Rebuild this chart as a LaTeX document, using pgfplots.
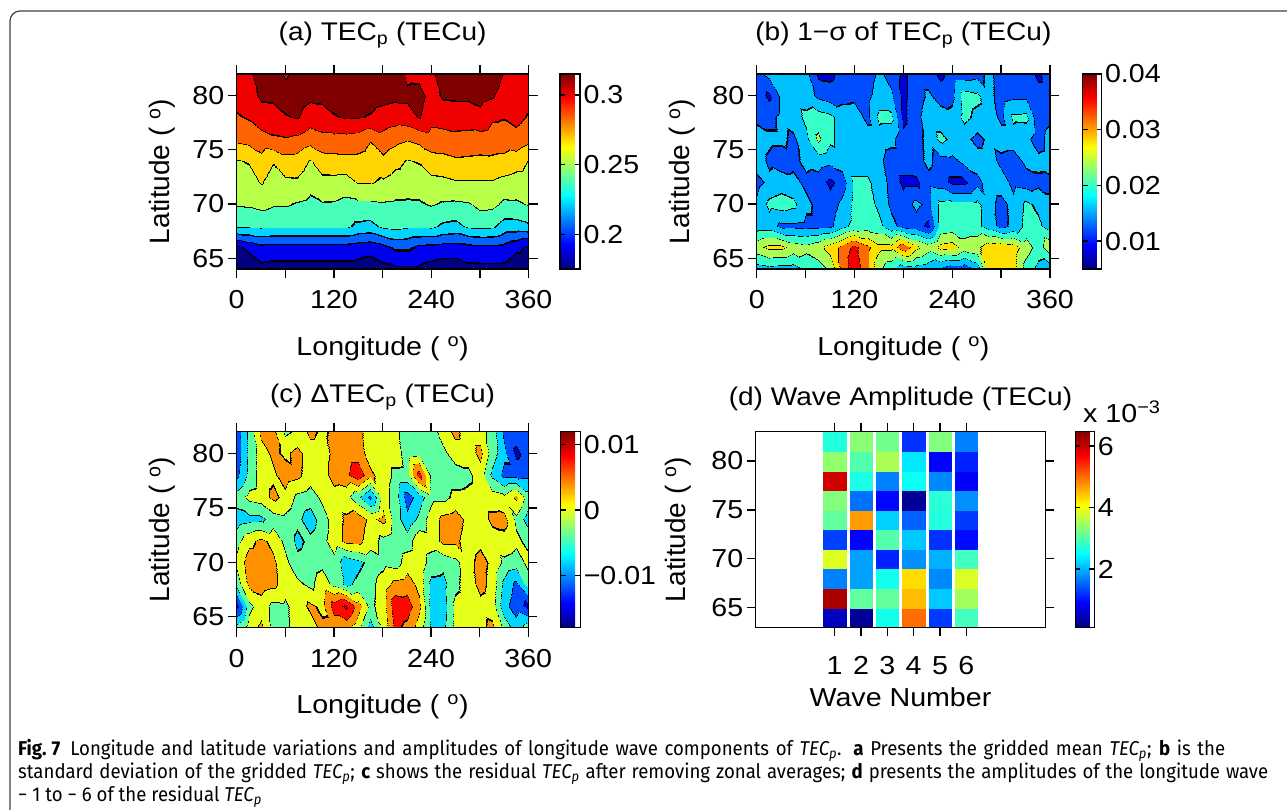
\documentclass[border=0pt]{standalone}
\usepackage{fontspec}
\setmainfont{Liberation Sans}
\newfontfamily\plotfont[FakeStretch=1.1]{Liberation Sans}
\newfontfamily\capfont[FakeStretch=0.93]{Fira Sans}
\usepackage{pgfplots}
\pgfplotsset{compat=1.18}
\newcommand\cbdash[1]{%
  \draw[black, line width=1.3pt] ({rel axis cs:0,0}|-{axis cs:0,#1}) -- ++(5pt,0);
  \draw[black, line width=1.3pt] ({rel axis cs:1,0}|-{axis cs:0,#1}) -- ++(-5pt,0);}
\pgfplotsset{
  colormap={bandsA}{rgb(0pt)=(0,0,0.5) rgb(0.96pt)=(0,0,0) rgb(1.04pt)=(0,0,0.944) rgb(1.92pt)=(0,0,0) rgb(2.08pt)=(0,0.389,1) rgb(2.92pt)=(0,0,0) rgb(3.08pt)=(0,0.833,1) rgb(3.96pt)=(0,0,0) rgb(4.04pt)=(0.278,1,0.722) rgb(4.975pt)=(0,0,0) rgb(5.025pt)=(0.722,1,0.278) rgb(5.975pt)=(0,0,0) rgb(6.025pt)=(1,0.833,0) rgb(6.975pt)=(0,0,0) rgb(7.025pt)=(1,0.389,0) rgb(7.975pt)=(0,0,0) rgb(8.025pt)=(0.944,0,0) rgb(8.975pt)=(0,0,0) rgb(9.025pt)=(0.5,0,0) rgb(10pt)=(0.5,0,0)},
  colormap={bandsB}{rgb(0pt)=(0,0,0.557) rgb(0.87pt)=(0,0,0) rgb(1.13pt)=(0,0,0.844) rgb(4.87pt)=(0,0,0) rgb(5.13pt)=(0,0.3,1) rgb(8.87pt)=(0,0,0) rgb(9.13pt)=(0,0.757,1) rgb(12.87pt)=(0,0,0) rgb(13.13pt)=(0.214,1,0.786) rgb(16.87pt)=(0,0,0) rgb(17.13pt)=(0.671,1,0.329) rgb(20.87pt)=(0,0,0) rgb(21.13pt)=(1,0.871,0) rgb(24.87pt)=(0,0,0) rgb(25.13pt)=(1,0.414,0) rgb(28.87pt)=(0,0,0) rgb(29.13pt)=(0.957,0,0) rgb(32.87pt)=(0,0,0) rgb(33.13pt)=(0.614,0,0) rgb(35pt)=(0.614,0,0)},
  colormap={bandsC}{rgb(0pt)=(0,0,0.767) rgb(3.87pt)=(0,0,0) rgb(4.13pt)=(0,0.3,1) rgb(7.87pt)=(0,0,0) rgb(8.13pt)=(0,0.833,1) rgb(11.87pt)=(0,0,0) rgb(12.13pt)=(0.367,1,0.633) rgb(15.87pt)=(0,0,0) rgb(16.13pt)=(0.9,1,0.1) rgb(19.87pt)=(0,0,0) rgb(20.13pt)=(1,0.567,0) rgb(23.87pt)=(0,0,0) rgb(24.13pt)=(1,0.033,0) rgb(27.87pt)=(0,0,0) rgb(28.13pt)=(0.633,0,0) rgb(30pt)=(0.633,0,0)},
  panel/.style={
    scale only axis, axis on top, enlargelimits=false,
    tick align=outside, major tick length=9pt,
    xtick pos=both, ytick pos=both,
    tick style={black, line width=1.3pt},
    axis line style={black, line width=1.1pt},
    ticklabel style={font=\plotfont\fontsize{26}{26}\selectfont},
    xticklabel style={yshift=-9pt},
    ytick={65,70,75,80}, yticklabels={65,70,75,80},
    title style={font=\plotfont\fontsize{25.5}{25.5}\selectfont, anchor=base},
    xlabel style={font=\plotfont\fontsize{26}{26}\selectfont, anchor=base},
    ylabel style={font=\fontsize{28}{28}\selectfont, anchor=base},
    ylabel={Latitude ( \textsuperscript{o})},
    colormap/jet, colorbar,
    colorbar style={
      at={(parent axis.north east)}, anchor=north west,
      colormap access=map, scaled y ticks=false,
      ytick style={draw=none},
      yticklabel style={font=\plotfont\fontsize{26}{26}\selectfont},
      axis line style={black, line width=1.1pt},
    },
  },
  lonpanel/.style={panel, xmin=0, xmax=360, ymin=64, ymax=82,
    xtick={0,60,...,360}, xticklabels={0,,120,,240,,360},
    xlabel={Longitude ( \textsuperscript{o})}},
  bandplot/.style={surf, shader=interp, mesh/rows=10, mesh/cols=25, point meta=explicit, colormap access=piecewise constant},
}
\begin{document}
\begin{tikzpicture}
\useasboundingbox (0,0) rectangle (1287pt,809pt);
\draw[black!75, line width=1.2pt] (10pt,-5pt) -- (10pt,788pt) arc[start angle=180, end angle=90, radius=10pt] -- (1295pt,798pt);

% (a)
\begin{axis}[lonpanel, at={(236.7pt,540pt)}, anchor=south west, width=291.8pt, height=195pt,
  point meta min=0.175, point meta max=0.315,
  title={(a) TEC\textsubscript{p} (TECu)}, title style={at={(axis description cs:0.5,1.14)}},
  xlabel style={at={(axis description cs:0.5,-0.446)}},
  ylabel style={at={(axis description cs:-0.231,0.5)}},
  colorbar style={xshift=23pt, width=20pt, ytick={0.2,0.25,0.3}, yticklabels={0.2,0.25,0.3},
    after end axis/.code={\cbdash{0.2}\cbdash{0.25}\cbdash{0.3}}}]
\addplot[bandplot, colormap name=bandsA] coordinates {
(0,64)[0.1792] (15,64)[0.1792] (30,64)[0.1848] (45,64)[0.1834] (60,64)[0.1834] (75,64)[0.1834] (90,64)[0.1834] (105,64)[0.1834] (120,64)[0.1834] (135,64)[0.1834] (150,64)[0.1834] (165,64)[0.1806] (180,64)[0.1848] (195,64)[0.1862] (210,64)[0.1862] (225,64)[0.1862] (240,64)[0.1834] (255,64)[0.1806] (270,64)[0.1806] (285,64)[0.1848] (300,64)[0.1848] (315,64)[0.1848] (330,64)[0.1848] (345,64)[0.1792] (360,64)[0.1792]
(0,66)[0.1862] (15,66)[0.1925] (30,66)[0.1988] (45,66)[0.1974] (60,66)[0.1974] (75,66)[0.1974] (90,66)[0.1974] (105,66)[0.1974] (120,66)[0.1974] (135,66)[0.1974] (150,66)[0.1960] (165,66)[0.1946] (180,66)[0.1988] (195,66)[0.2058] (210,66)[0.2058] (225,66)[0.2002] (240,66)[0.1988] (255,66)[0.1974] (270,66)[0.1974] (285,66)[0.1988] (300,66)[0.2002] (315,66)[0.2002] (330,66)[0.1988] (345,66)[0.1925] (360,66)[0.1862]
(0,68)[0.2335] (15,68)[0.2335] (30,68)[0.2338] (45,68)[0.2335] (60,68)[0.2335] (75,68)[0.2335] (90,68)[0.2335] (105,68)[0.2335] (120,68)[0.2335] (135,68)[0.2335] (150,68)[0.2282] (165,68)[0.2268] (180,68)[0.2338] (195,68)[0.2352] (210,68)[0.2335] (225,68)[0.2335] (240,68)[0.2338] (255,68)[0.2285] (270,68)[0.2268] (285,68)[0.2335] (300,68)[0.2345] (315,68)[0.2335] (330,68)[0.2254] (345,68)[0.2254] (360,68)[0.2285]
(0,70)[0.2461] (15,70)[0.2468] (30,70)[0.2492] (45,70)[0.2464] (60,70)[0.2464] (75,70)[0.2439] (90,70)[0.2415] (105,70)[0.2439] (120,70)[0.2436] (135,70)[0.2408] (150,70)[0.2422] (165,70)[0.2422] (180,70)[0.2436] (195,70)[0.2429] (210,70)[0.2429] (225,70)[0.2436] (240,70)[0.2461] (255,70)[0.2436] (270,70)[0.2429] (285,70)[0.2436] (300,70)[0.2492] (315,70)[0.2485] (330,70)[0.2422] (345,70)[0.2429] (360,70)[0.2461]
(0,72)[0.2520] (15,72)[0.2530] (30,72)[0.2601] (45,72)[0.2527] (60,72)[0.2562] (75,72)[0.2569] (90,72)[0.2499] (105,72)[0.2548] (120,72)[0.2548] (135,72)[0.2534] (150,72)[0.2601] (165,72)[0.2601] (180,72)[0.2569] (195,72)[0.2527] (210,72)[0.2513] (225,72)[0.2513] (240,72)[0.2548] (255,72)[0.2555] (270,72)[0.2579] (285,72)[0.2579] (300,72)[0.2579] (315,72)[0.2579] (330,72)[0.2548] (345,72)[0.2527] (360,72)[0.2520]
(0,74)[0.2579] (15,74)[0.2601] (30,74)[0.2678] (45,74)[0.2601] (60,74)[0.2674] (75,74)[0.2667] (90,74)[0.2579] (105,74)[0.2667] (120,74)[0.2674] (135,74)[0.2688] (150,74)[0.2688] (165,74)[0.2660] (180,74)[0.2695] (195,74)[0.2632] (210,74)[0.2579] (225,74)[0.2601] (240,74)[0.2674] (255,74)[0.2688] (270,74)[0.2709] (285,74)[0.2702] (300,74)[0.2695] (315,74)[0.2702] (330,74)[0.2688] (345,74)[0.2653] (360,74)[0.2579]
(0,76)[0.2758] (15,76)[0.2778] (30,76)[0.2814] (45,76)[0.2849] (60,76)[0.2859] (75,76)[0.2842] (90,76)[0.2786] (105,76)[0.2828] (120,76)[0.2828] (135,76)[0.2821] (150,76)[0.2807] (165,76)[0.2741] (180,76)[0.2814] (195,76)[0.2772] (210,76)[0.2741] (225,76)[0.2772] (240,76)[0.2807] (255,76)[0.2807] (270,76)[0.2828] (285,76)[0.2821] (300,76)[0.2814] (315,76)[0.2800] (330,76)[0.2800] (345,76)[0.2821] (360,76)[0.2765]
(0,78)[0.2856] (15,78)[0.2884] (30,78)[0.2947] (45,78)[0.2954] (60,78)[0.2999] (75,78)[0.3021] (90,78)[0.2940] (105,78)[0.2954] (120,78)[0.2999] (135,78)[0.3024] (150,78)[0.3021] (165,78)[0.2999] (180,78)[0.2954] (195,78)[0.2933] (210,78)[0.2954] (225,78)[0.3021] (240,78)[0.2926] (255,78)[0.2940] (270,78)[0.2940] (285,78)[0.2940] (300,78)[0.2968] (315,78)[0.2891] (330,78)[0.2877] (345,78)[0.2912] (360,78)[0.2856]
(0,80)[0.2926] (15,80)[0.2954] (30,80)[0.3031] (45,80)[0.3038] (60,80)[0.3066] (75,80)[0.3080] (90,80)[0.3038] (105,80)[0.3045] (120,80)[0.3066] (135,80)[0.3080] (150,80)[0.3073] (165,80)[0.3066] (180,80)[0.3052] (195,80)[0.3038] (210,80)[0.3038] (225,80)[0.3052] (240,80)[0.2968] (255,80)[0.3024] (270,80)[0.3031] (285,80)[0.3031] (300,80)[0.3052] (315,80)[0.3024] (330,80)[0.2940] (345,80)[0.2940] (360,80)[0.2926]
(0,82)[0.2982] (15,82)[0.2982] (30,82)[0.3080] (45,82)[0.3080] (60,82)[0.2996] (75,82)[0.3066] (90,82)[0.3094] (105,82)[0.3094] (120,82)[0.3094] (135,82)[0.3094] (150,82)[0.3094] (165,82)[0.3094] (180,82)[0.3094] (195,82)[0.3094] (210,82)[0.2982] (225,82)[0.2975] (240,82)[0.2982] (255,82)[0.3080] (270,82)[0.3094] (285,82)[0.3094] (300,82)[0.3094] (315,82)[0.3094] (330,82)[0.2996] (345,82)[0.2982] (360,82)[0.2982]
};
\end{axis}

% (b)
\begin{axis}[lonpanel, at={(756.7pt,540pt)}, anchor=south west, width=293.3pt, height=195pt,
  point meta min=0.005, point meta max=0.040,
  title={(b) 1−σ of TEC\textsubscript{p} (TECu)}, title style={at={(axis description cs:0.5,1.14)}},
  xlabel style={at={(axis description cs:0.5,-0.446)}},
  ylabel style={at={(axis description cs:-0.23,0.5)}},
  colorbar style={xshift=24pt, width=19pt, ytick={0.01,0.02,0.03,0.04}, yticklabels={0.01,0.02,0.03,0.04},
    after end axis/.code={\cbdash{0.01}\cbdash{0.02}\cbdash{0.03}}}]
\addplot[bandplot, colormap name=bandsB] coordinates {
(0,64)[0.0160] (15,64)[0.0168] (30,64)[0.0160] (45,64)[0.0160] (60,64)[0.0190] (75,64)[0.0200] (90,64)[0.0228] (105,64)[0.0310] (120,64)[0.0372] (135,64)[0.0310] (150,64)[0.0228] (165,64)[0.0190] (180,64)[0.0152] (195,64)[0.0160] (210,64)[0.0152] (225,64)[0.0132] (240,64)[0.0112] (255,64)[0.0112] (270,64)[0.0150] (285,64)[0.0280] (300,64)[0.0292] (315,64)[0.0280] (330,64)[0.0200] (345,64)[0.0168] (360,64)[0.0160]
(0,66)[0.0248] (15,66)[0.0270] (30,66)[0.0270] (45,66)[0.0244] (60,66)[0.0232] (75,66)[0.0248] (90,66)[0.0280] (105,66)[0.0312] (120,66)[0.0352] (135,66)[0.0310] (150,66)[0.0270] (165,66)[0.0272] (180,66)[0.0330] (195,66)[0.0272] (210,66)[0.0240] (225,66)[0.0272] (240,66)[0.0280] (255,66)[0.0240] (270,66)[0.0252] (285,66)[0.0280] (300,66)[0.0288] (315,66)[0.0280] (330,66)[0.0240] (345,66)[0.0200] (360,66)[0.0248]
(0,68)[0.0160] (15,68)[0.0160] (30,68)[0.0130] (45,68)[0.0132] (60,68)[0.0128] (75,68)[0.0128] (90,68)[0.0132] (105,68)[0.0168] (120,68)[0.0192] (135,68)[0.0200] (150,68)[0.0192] (165,68)[0.0152] (180,68)[0.0128] (195,68)[0.0120] (210,68)[0.0090] (225,68)[0.0190] (240,68)[0.0196] (255,68)[0.0192] (270,68)[0.0190] (285,68)[0.0160] (300,68)[0.0128] (315,68)[0.0150] (330,68)[0.0192] (345,68)[0.0190] (360,68)[0.0160]
(0,70)[0.0150] (15,70)[0.0190] (30,70)[0.0200] (45,70)[0.0190] (60,70)[0.0150] (75,70)[0.0128] (90,70)[0.0120] (105,70)[0.0150] (120,70)[0.0192] (135,70)[0.0200] (150,70)[0.0168] (165,70)[0.0132] (180,70)[0.0120] (195,70)[0.0150] (210,70)[0.0128] (225,70)[0.0190] (240,70)[0.0192] (255,70)[0.0192] (270,70)[0.0190] (285,70)[0.0152] (300,70)[0.0128] (315,70)[0.0152] (330,70)[0.0188] (345,70)[0.0170] (360,70)[0.0150]
(0,72)[0.0128] (15,72)[0.0150] (30,72)[0.0160] (45,72)[0.0152] (60,72)[0.0130] (75,72)[0.0120] (90,72)[0.0090] (105,72)[0.0120] (120,72)[0.0188] (135,72)[0.0188] (150,72)[0.0160] (165,72)[0.0128] (180,72)[0.0090] (195,72)[0.0090] (210,72)[0.0128] (225,72)[0.0120] (240,72)[0.0090] (255,72)[0.0090] (270,72)[0.0128] (285,72)[0.0160] (300,72)[0.0160] (315,72)[0.0128] (330,72)[0.0120] (345,72)[0.0130] (360,72)[0.0128]
(0,74)[0.0160] (15,74)[0.0132] (30,74)[0.0120] (45,74)[0.0128] (60,74)[0.0152] (75,74)[0.0160] (90,74)[0.0150] (105,74)[0.0160] (120,74)[0.0160] (135,74)[0.0160] (150,74)[0.0150] (165,74)[0.0120] (180,74)[0.0120] (195,74)[0.0128] (210,74)[0.0148] (225,74)[0.0124] (240,74)[0.0128] (255,74)[0.0150] (270,74)[0.0160] (285,74)[0.0160] (300,74)[0.0128] (315,74)[0.0120] (330,74)[0.0150] (345,74)[0.0152] (360,74)[0.0160]
(0,76)[0.0160] (15,76)[0.0148] (30,76)[0.0148] (45,76)[0.0132] (60,76)[0.0170] (75,76)[0.0228] (90,76)[0.0190] (105,76)[0.0160] (120,76)[0.0160] (135,76)[0.0160] (150,76)[0.0160] (165,76)[0.0152] (180,76)[0.0112] (195,76)[0.0128] (210,76)[0.0150] (225,76)[0.0190] (240,76)[0.0172] (255,76)[0.0152] (270,76)[0.0128] (285,76)[0.0150] (300,76)[0.0160] (315,76)[0.0160] (330,76)[0.0150] (345,76)[0.0120] (360,76)[0.0160]
(0,78)[0.0130] (15,78)[0.0128] (30,78)[0.0150] (45,78)[0.0160] (60,78)[0.0190] (75,78)[0.0200] (90,78)[0.0190] (105,78)[0.0160] (120,78)[0.0160] (135,78)[0.0130] (150,78)[0.0190] (165,78)[0.0190] (180,78)[0.0090] (195,78)[0.0128] (210,78)[0.0160] (225,78)[0.0160] (240,78)[0.0150] (255,78)[0.0192] (270,78)[0.0168] (285,78)[0.0160] (300,78)[0.0130] (315,78)[0.0188] (330,78)[0.0190] (345,78)[0.0112] (360,78)[0.0130]
(0,80)[0.0120] (15,80)[0.0092] (30,80)[0.0150] (45,80)[0.0164] (60,80)[0.0160] (75,80)[0.0132] (90,80)[0.0120] (105,80)[0.0128] (120,80)[0.0132] (135,80)[0.0128] (150,80)[0.0160] (165,80)[0.0150] (180,80)[0.0090] (195,80)[0.0120] (210,80)[0.0148] (225,80)[0.0124] (240,80)[0.0132] (255,80)[0.0200] (270,80)[0.0190] (285,80)[0.0150] (300,80)[0.0124] (315,80)[0.0132] (330,80)[0.0132] (345,80)[0.0120] (360,80)[0.0120]
(0,82)[0.0130] (15,82)[0.0152] (30,82)[0.0160] (45,82)[0.0160] (60,82)[0.0150] (75,82)[0.0092] (90,82)[0.0090] (105,82)[0.0120] (120,82)[0.0120] (135,82)[0.0120] (150,82)[0.0150] (165,82)[0.0120] (180,82)[0.0092] (195,82)[0.0120] (210,82)[0.0120] (225,82)[0.0090] (240,82)[0.0120] (255,82)[0.0120] (270,82)[0.0128] (285,82)[0.0150] (300,82)[0.0120] (315,82)[0.0120] (330,82)[0.0120] (345,82)[0.0090] (360,82)[0.0130]
};
\end{axis}

% (c)
\begin{axis}[lonpanel, at={(236.7pt,181.3pt)}, anchor=south west, width=291.6pt, height=196pt,
  point meta min=-0.018, point meta max=0.012,
  title={(c) ΔTEC\textsubscript{p} (TECu)}, title style={at={(axis description cs:0.5,1.119)}},
  xlabel style={at={(axis description cs:0.5,-0.44)}},
  ylabel style={at={(axis description cs:-0.231,0.5)}},
  colorbar style={xshift=24pt, width=19.4pt, ytick={-0.01,0,0.01}, yticklabels={−0.01,0,0.01},
    after end axis/.code={\cbdash{-0.01}\cbdash{0}\cbdash{0.01}}}]
\addplot[bandplot, colormap name=bandsC] coordinates {
(0,64)[-0.0040] (15,64)[0.0000] (30,64)[0.0030] (45,64)[-0.0030] (60,64)[-0.0032] (75,64)[0.0000] (90,64)[0.0000] (105,64)[0.0030] (120,64)[0.0032] (135,64)[0.0030] (150,64)[-0.0008] (165,64)[-0.0080] (180,64)[-0.0010] (195,64)[0.0070] (210,64)[0.0048] (225,64)[0.0000] (240,64)[-0.0070] (255,64)[-0.0070] (270,64)[-0.0010] (285,64)[0.0000] (300,64)[0.0010] (315,64)[0.0030] (330,64)[-0.0030] (345,64)[-0.0080] (360,64)[-0.0040]
(0,66)[-0.0152] (15,66)[-0.0032] (30,66)[0.0000] (45,66)[-0.0032] (60,66)[-0.0028] (75,66)[0.0000] (90,66)[0.0028] (105,66)[0.0010] (120,66)[0.0080] (135,66)[0.0110] (150,66)[0.0040] (165,66)[-0.0030] (180,66)[0.0000] (195,66)[0.0088] (210,66)[0.0080] (225,66)[0.0030] (240,66)[-0.0072] (255,66)[-0.0080] (270,66)[-0.0010] (285,66)[0.0000] (300,66)[0.0008] (315,66)[0.0000] (330,66)[-0.0088] (345,66)[-0.0120] (360,66)[-0.0152]
(0,68)[-0.0040] (15,68)[0.0030] (30,68)[0.0040] (45,68)[0.0030] (60,68)[0.0000] (75,68)[-0.0010] (90,68)[-0.0030] (105,68)[0.0000] (120,68)[-0.0032] (135,68)[-0.0070] (150,68)[-0.0050] (165,68)[-0.0032] (180,68)[0.0000] (195,68)[0.0032] (210,68)[0.0040] (225,68)[0.0008] (240,68)[-0.0070] (255,68)[-0.0072] (270,68)[-0.0030] (285,68)[0.0000] (300,68)[0.0032] (315,68)[0.0008] (330,68)[-0.0072] (345,68)[-0.0110] (360,68)[-0.0040]
(0,70)[-0.0008] (15,70)[0.0040] (30,70)[0.0040] (45,70)[0.0028] (60,70)[-0.0010] (75,70)[-0.0048] (90,70)[-0.0040] (105,70)[-0.0030] (120,70)[-0.0032] (135,70)[-0.0088] (150,70)[-0.0070] (165,70)[-0.0048] (180,70)[-0.0032] (195,70)[-0.0040] (210,70)[0.0000] (225,70)[0.0008] (240,70)[-0.0040] (255,70)[-0.0048] (270,70)[-0.0032] (285,70)[0.0008] (300,70)[0.0032] (315,70)[0.0012] (330,70)[-0.0030] (345,70)[-0.0040] (360,70)[-0.0008]
(0,72)[-0.0032] (15,72)[0.0010] (30,72)[0.0030] (45,72)[0.0008] (60,72)[-0.0030] (75,72)[-0.0070] (90,72)[-0.0050] (105,72)[-0.0032] (120,72)[0.0000] (135,72)[0.0030] (150,72)[0.0032] (165,72)[0.0000] (180,72)[-0.0032] (195,72)[-0.0048] (210,72)[-0.0040] (225,72)[0.0010] (240,72)[0.0000] (255,72)[0.0030] (270,72)[0.0030] (285,72)[0.0000] (300,72)[0.0012] (315,72)[0.0000] (330,72)[0.0008] (345,72)[-0.0010] (360,72)[-0.0032]
(0,74)[-0.0080] (15,74)[-0.0072] (30,74)[-0.0070] (45,74)[-0.0040] (60,74)[-0.0030] (75,74)[-0.0050] (90,74)[-0.0080] (105,74)[-0.0040] (120,74)[0.0000] (135,74)[0.0028] (150,74)[0.0040] (165,74)[0.0010] (180,74)[0.0032] (195,74)[-0.0040] (210,74)[-0.0088] (225,74)[-0.0050] (240,74)[0.0000] (255,74)[0.0032] (270,74)[0.0040] (285,74)[0.0008] (300,74)[0.0000] (315,74)[0.0030] (330,74)[0.0032] (345,74)[-0.0030] (360,74)[-0.0080]
(0,76)[-0.0040] (15,76)[-0.0008] (30,76)[0.0000] (45,76)[0.0030] (60,76)[0.0008] (75,76)[-0.0030] (90,76)[-0.0040] (105,76)[-0.0010] (120,76)[0.0000] (135,76)[-0.0008] (150,76)[-0.0050] (165,76)[-0.0110] (180,76)[0.0000] (195,76)[-0.0040] (210,76)[-0.0120] (225,76)[-0.0080] (240,76)[-0.0032] (255,76)[-0.0032] (270,76)[-0.0010] (285,76)[-0.0008] (300,76)[0.0000] (315,76)[0.0000] (330,76)[-0.0010] (345,76)[0.0028] (360,76)[-0.0040]
(0,78)[-0.0108] (15,78)[-0.0048] (30,78)[0.0000] (45,78)[0.0012] (60,78)[0.0040] (75,78)[0.0030] (90,78)[0.0000] (105,78)[0.0000] (120,78)[0.0040] (135,78)[0.0052] (150,78)[0.0088] (165,78)[0.0030] (180,78)[0.0000] (195,78)[-0.0030] (210,78)[-0.0032] (225,78)[0.0080] (240,78)[-0.0030] (255,78)[-0.0040] (270,78)[-0.0040] (285,78)[-0.0030] (300,78)[0.0000] (315,78)[-0.0070] (330,78)[-0.0112] (345,78)[-0.0112] (360,78)[-0.0108]
(0,80)[-0.0120] (15,80)[-0.0050] (30,80)[0.0000] (45,80)[0.0030] (60,80)[0.0012] (75,80)[0.0032] (90,80)[0.0000] (105,80)[0.0000] (120,80)[0.0032] (135,80)[0.0040] (150,80)[0.0040] (165,80)[0.0000] (180,80)[0.0000] (195,80)[0.0000] (210,80)[-0.0040] (225,80)[-0.0032] (240,80)[-0.0032] (255,80)[-0.0030] (270,80)[0.0000] (285,80)[0.0000] (300,80)[0.0032] (315,80)[-0.0040] (330,80)[-0.0090] (345,80)[-0.0150] (360,80)[-0.0120]
(0,82)[-0.0120] (15,82)[-0.0048] (30,82)[0.0032] (45,82)[0.0030] (60,82)[-0.0028] (75,82)[-0.0010] (90,82)[0.0030] (105,82)[0.0012] (120,82)[0.0030] (135,82)[0.0040] (150,82)[0.0032] (165,82)[0.0000] (180,82)[0.0000] (195,82)[-0.0010] (210,82)[-0.0040] (225,82)[-0.0050] (240,82)[-0.0040] (255,82)[0.0000] (270,82)[0.0030] (285,82)[0.0000] (300,82)[0.0000] (315,82)[-0.0040] (330,82)[-0.0110] (345,82)[-0.0120] (360,82)[-0.0120]
};
\end{axis}

% (d)
\begin{axis}[panel, at={(755.7pt,181.7pt)}, anchor=south west, width=289.6pt, height=195.6pt,
  xmin=-2, xmax=9, ymin=63, ymax=83, xtick={1,...,6}, xticklabels={1,2,3,4,5,6},
  xticklabel style={yshift=-8pt},
  point meta min=0.1, point meta max=6.47,
  xlabel={Wave Number}, xlabel style={at={(axis description cs:0.5,-0.406)}},
  ylabel style={at={(axis description cs:-0.244,0.5)}},
  title={(d) Wave Amplitude (TECu)}, title style={at={(axis description cs:0.5,1.102)}},
  colorbar style={xshift=21.4pt, width=19pt, ytick={2,4,6}, yticklabels={2,4,6},
    after end axis/.code={\cbdash{2}\cbdash{4}\cbdash{6}}}]
\addplot[patch, patch type=rectangle, shader=flat, point meta=explicit] coordinates {
(0.58,63)[0.5] (1.42,63)[0.5] (1.42,65)[0.5] (0.58,65)[0.5]
(0.58,65)[6.2] (1.42,65)[6.2] (1.42,67)[6.2] (0.58,67)[6.2]
(0.58,67)[1.7] (1.42,67)[1.7] (1.42,69)[1.7] (0.58,69)[1.7]
(0.58,69)[3.87] (1.42,69)[3.87] (1.42,71)[3.87] (0.58,71)[3.87]
(0.58,71)[1.3] (1.42,71)[1.3] (1.42,73)[1.3] (0.58,73)[1.3]
(0.58,73)[3.1] (1.42,73)[3.1] (1.42,75)[3.1] (0.58,75)[3.1]
(0.58,75)[3.3] (1.42,75)[3.3] (1.42,77)[3.3] (0.58,77)[3.3]
(0.58,77)[5.96] (1.42,77)[5.96] (1.42,79)[5.96] (0.58,79)[5.96]
(0.58,79)[3.4] (1.42,79)[3.4] (1.42,81)[3.4] (0.58,81)[3.4]
(0.58,81)[2.7] (1.42,81)[2.7] (1.42,83)[2.7] (0.58,83)[2.7]
(1.58,63)[0.25] (2.42,63)[0.25] (2.42,65)[0.25] (1.58,65)[0.25]
(1.58,65)[3.1] (2.42,65)[3.1] (2.42,67)[3.1] (1.58,67)[3.1]
(1.58,67)[1.9] (2.42,67)[1.9] (2.42,69)[1.9] (1.58,69)[1.9]
(1.58,69)[1.9] (2.42,69)[1.9] (2.42,71)[1.9] (1.58,71)[1.9]
(1.58,71)[0.9] (2.42,71)[0.9] (2.42,73)[0.9] (1.58,73)[0.9]
(1.58,73)[4.7] (2.42,73)[4.7] (2.42,75)[4.7] (1.58,75)[4.7]
(1.58,75)[1.6] (2.42,75)[1.6] (2.42,77)[1.6] (1.58,77)[1.6]
(1.58,77)[2.65] (2.42,77)[2.65] (2.42,79)[2.65] (1.58,79)[2.65]
(1.58,79)[3.0] (2.42,79)[3.0] (2.42,81)[3.0] (1.58,81)[3.0]
(1.58,81)[3.35] (2.42,81)[3.35] (2.42,83)[3.35] (1.58,83)[3.35]
(2.58,63)[2.6] (3.42,63)[2.6] (3.42,65)[2.6] (2.58,65)[2.6]
(2.58,65)[3.1] (3.42,65)[3.1] (3.42,67)[3.1] (2.58,67)[3.1]
(2.58,67)[2.6] (3.42,67)[2.6] (3.42,69)[2.6] (2.58,69)[2.6]
(2.58,69)[1.1] (3.42,69)[1.1] (3.42,71)[1.1] (2.58,71)[1.1]
(2.58,71)[3.0] (3.42,71)[3.0] (3.42,73)[3.0] (2.58,73)[3.0]
(2.58,73)[2.2] (3.42,73)[2.2] (3.42,75)[2.2] (2.58,75)[2.2]
(2.58,75)[0.93] (3.42,75)[0.93] (3.42,77)[0.93] (2.58,77)[0.93]
(2.58,77)[1.7] (3.42,77)[1.7] (3.42,79)[1.7] (2.58,79)[1.7]
(2.58,79)[3.55] (3.42,79)[3.55] (3.42,81)[3.55] (2.58,81)[3.55]
(2.58,81)[3.2] (3.42,81)[3.2] (3.42,83)[3.2] (2.58,83)[3.2]
(3.58,63)[5.0] (4.42,63)[5.0] (4.42,65)[5.0] (3.58,65)[5.0]
(3.58,65)[4.5] (4.42,65)[4.5] (4.42,67)[4.5] (3.58,67)[4.5]
(3.58,67)[4.3] (4.42,67)[4.3] (4.42,69)[4.3] (3.58,69)[4.3]
(3.58,69)[1.8] (4.42,69)[1.8] (4.42,71)[1.8] (3.58,71)[1.8]
(3.58,71)[2.15] (4.42,71)[2.15] (4.42,73)[2.15] (3.58,73)[2.15]
(3.58,73)[1.5] (4.42,73)[1.5] (4.42,75)[1.5] (3.58,75)[1.5]
(3.58,75)[0.25] (4.42,75)[0.25] (4.42,77)[0.25] (3.58,77)[0.25]
(3.58,77)[2.55] (4.42,77)[2.55] (4.42,79)[2.55] (3.58,79)[2.55]
(3.58,79)[2.35] (4.42,79)[2.35] (4.42,81)[2.35] (3.58,81)[2.35]
(3.58,81)[1.2] (4.42,81)[1.2] (4.42,83)[1.2] (3.58,83)[1.2]
(4.58,63)[1.25] (5.42,63)[1.25] (5.42,65)[1.25] (4.58,65)[1.25]
(4.58,65)[2.15] (5.42,65)[2.15] (5.42,67)[2.15] (4.58,67)[2.15]
(4.58,67)[1.75] (5.42,67)[1.75] (5.42,69)[1.75] (4.58,69)[1.75]
(4.58,69)[2.0] (5.42,69)[2.0] (5.42,71)[2.0] (4.58,71)[2.0]
(4.58,71)[1.2] (5.42,71)[1.2] (5.42,73)[1.2] (4.58,73)[1.2]
(4.58,73)[2.7] (5.42,73)[2.7] (5.42,75)[2.7] (4.58,75)[2.7]
(4.58,75)[2.75] (5.42,75)[2.75] (5.42,77)[2.75] (4.58,77)[2.75]
(4.58,77)[1.75] (5.42,77)[1.75] (5.42,79)[1.75] (4.58,79)[1.75]
(4.58,79)[0.9] (5.42,79)[0.9] (5.42,81)[0.9] (4.58,81)[0.9]
(4.58,81)[3.3] (5.42,81)[3.3] (5.42,83)[3.3] (4.58,83)[3.3]
(5.58,63)[2.9] (6.42,63)[2.9] (6.42,65)[2.9] (5.58,65)[2.9]
(5.58,65)[3.5] (6.42,65)[3.5] (6.42,67)[3.5] (5.58,67)[3.5]
(5.58,67)[3.85] (6.42,67)[3.85] (6.42,69)[3.85] (5.58,69)[3.85]
(5.58,69)[2.9] (6.42,69)[2.9] (6.42,71)[2.9] (5.58,71)[2.9]
(5.58,71)[0.95] (6.42,71)[0.95] (6.42,73)[0.95] (5.58,73)[0.95]
(5.58,73)[1.25] (6.42,73)[1.25] (6.42,75)[1.25] (5.58,75)[1.25]
(5.58,75)[1.8] (6.42,75)[1.8] (6.42,77)[1.8] (5.58,77)[1.8]
(5.58,77)[0.85] (6.42,77)[0.85] (6.42,79)[0.85] (5.58,79)[0.85]
(5.58,79)[1.1] (6.42,79)[1.1] (6.42,81)[1.1] (5.58,81)[1.1]
(5.58,81)[1.7] (6.42,81)[1.7] (6.42,83)[1.7] (5.58,83)[1.7]
};
\end{axis}

\node[anchor=base west, inner sep=0pt, font=\plotfont\fontsize{26}{26}\selectfont] at (1083pt,386pt) {x 10\textsuperscript{−3}};

\node[anchor=base west, inner sep=0pt] at (18pt,54pt) {\capfont\fontsize{20}{20}\selectfont\makebox[1207pt][s]{\textbf{Fig.\kern0.25em 7}\kern10pt Longitude and latitude variations and amplitudes of longitude wave components of \textit{TEC\textsubscript{p}}. \textbf{a} Presents the gridded mean \textit{TEC\textsubscript{p}}; \textbf{b} is the}};
\node[anchor=base west, inner sep=0pt] at (18pt,31pt) {\capfont\fontsize{20}{20}\selectfont\makebox[1250pt][s]{standard deviation of the gridded \textit{TEC\textsubscript{p}}; \textbf{c} shows the residual \textit{TEC\textsubscript{p}} after removing zonal averages; \textbf{d} presents the amplitudes of the longitude wave}};
\node[anchor=base west, inner sep=0pt] at (18pt,8pt) {\capfont\fontsize{20}{20}\selectfont − 1 to − 6 of the residual \textit{TEC\textsubscript{p}}};
\end{tikzpicture}
\end{document}
